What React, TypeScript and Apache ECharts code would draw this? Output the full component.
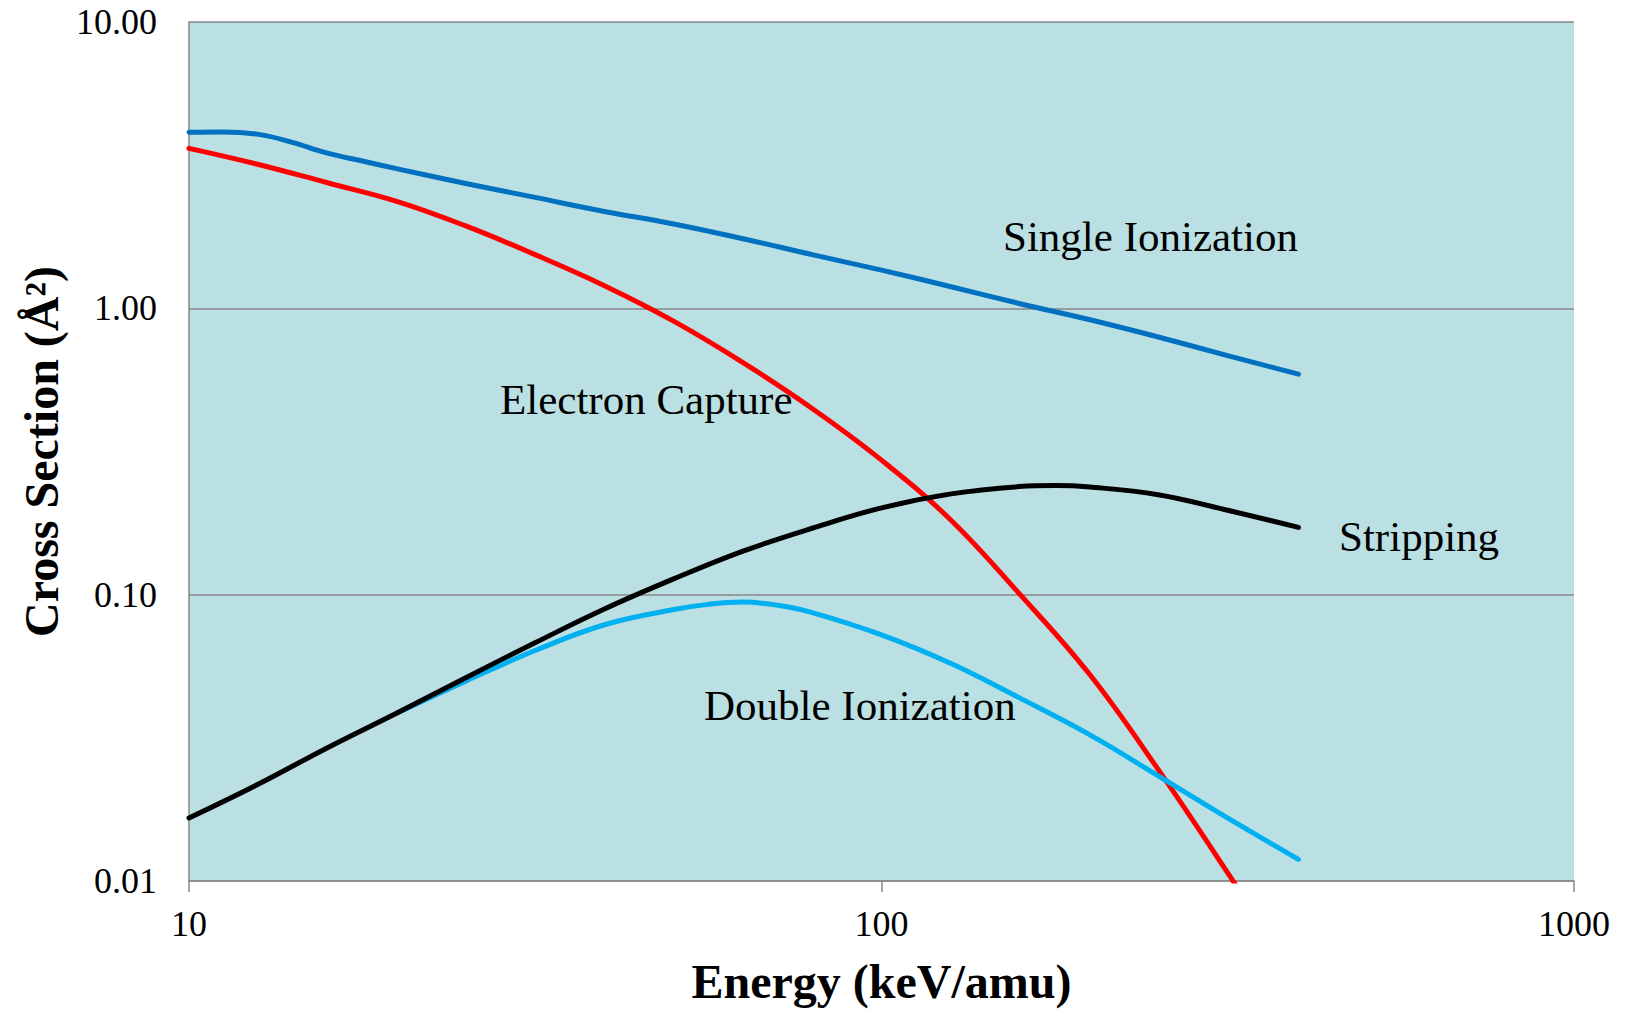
import React, { useEffect, useRef } from "react";
import * as echarts from "echarts";

// Energy (keV/amu) and cross sections (Å²)
const singleIonEnergy = [10, 11.2, 12.6, 14.1, 15.8, 17.8, 20, 25.1, 31.6, 39.8, 50.1, 63.1, 79.4, 100, 126, 158, 200, 251, 316, 400];
const singleIonSigma = [4.12, 4.13, 4.05, 3.8, 3.49, 3.27, 3.07, 2.73, 2.44, 2.18, 1.97, 1.75, 1.54, 1.36, 1.19, 1.04, 0.912, 0.794, 0.684, 0.589];

const captureEnergy = [10, 12.6, 15.8, 20, 25.1, 31.6, 39.8, 50.1, 63.1, 79.4, 100, 126, 158, 200, 251, 316, 355];
const captureSigma = [3.62, 3.18, 2.75, 2.36, 1.94, 1.54, 1.2, 0.902, 0.646, 0.447, 0.295, 0.182, 0.101, 0.0525, 0.0245, 0.0107, 0.0069];

const strippingEnergy = [10, 12.6, 15.8, 20, 25.1, 31.6, 39.8, 50.1, 63.1, 79.4, 100, 126, 158, 178, 200, 251, 316, 400];
const strippingSigma = [0.0166, 0.0218, 0.0291, 0.0387, 0.0513, 0.0679, 0.0891, 0.1135, 0.1419, 0.1706, 0.2009, 0.2249, 0.2385, 0.2405, 0.2377, 0.2234, 0.1972, 0.1718];

const doubleIonEnergy = [20, 25.1, 31.6, 39.8, 50.1, 56.2, 63.1, 70.8, 79.4, 100, 126, 158, 200, 251, 316, 400];
const doubleIonSigma = [0.0387, 0.0499, 0.0638, 0.0785, 0.0887, 0.0925, 0.0942, 0.0918, 0.0866, 0.0724, 0.0575, 0.0437, 0.0324, 0.0233, 0.0166, 0.0119];

const seriesNames = ["Single Ionization", "Electron Capture", "Double Ionization", "Stripping"];
const seriesColors = ["#0070C0", "#FF0000", "#00B0F0", "#000000"];

const xAxisTitle = "Energy (keV/amu)";
const yAxisTitle = "Cross Section (Å²)";

const pairs = (xs: number[], ys: number[]) => xs.map((x, i) => [x, ys[i]]);

export default function App() {
  const ref = useRef<HTMLDivElement>(null);
  useEffect(() => {
    if (!ref.current) return;
    const chart = echarts.init(ref.current, null, { renderer: "svg" });
    const font = "'Liberation Serif', 'Times New Roman', serif";
    const dataSets = [
      pairs(singleIonEnergy, singleIonSigma),
      pairs(captureEnergy, captureSigma),
      pairs(doubleIonEnergy, doubleIonSigma),
      pairs(strippingEnergy, strippingSigma),
    ];
    const annotation = (text: string, x: number, y: number) => ({
      type: "text",
      x,
      y,
      silent: true,
      z: 100,
      style: {
        text,
        fontFamily: font,
        fontSize: 43,
        fill: "#000000",
        align: "left",
        verticalAlign: "middle",
      },
    });
    chart.setOption({
      animation: false,
      backgroundColor: "#ffffff",
      grid: {
        left: 189,
        right: 54,
        top: 22,
        bottom: 130,
        show: true,
        backgroundColor: "#BBE0E3",
        borderWidth: 0,
      },
      xAxis: {
        type: "log",
        logBase: 10,
        min: 10,
        max: 1000,
        name: xAxisTitle,
        nameLocation: "middle",
        nameGap: 76,
        nameTextStyle: { fontFamily: font, fontSize: 48, fontWeight: "bold", color: "#000000" },
        axisLine: { show: true, onZero: false, lineStyle: { color: "#898989", width: 1.5 } },
        axisTick: { show: true, inside: false, length: 11, lineStyle: { color: "#898989", width: 1.5 } },
        minorTick: { show: false },
        splitLine: { show: false },
        axisLabel: {
          fontFamily: font,
          fontSize: 36,
          color: "#000000",
          margin: 25,
          showMinLabel: true,
          showMaxLabel: true,
          formatter: (v: number) => String(Math.round(v)),
        },
      },
      yAxis: {
        type: "log",
        logBase: 10,
        min: 0.01,
        max: 10,
        name: yAxisTitle,
        nameLocation: "middle",
        nameRotate: 90,
        nameGap: 124,
        nameTextStyle: { fontFamily: font, fontSize: 48, fontWeight: "bold", color: "#000000" },
        axisLine: { show: true, onZero: false, lineStyle: { color: "#898989", width: 1.5 } },
        axisTick: { show: false },
        minorTick: { show: false },
        splitLine: { show: true, lineStyle: { color: "#898989", width: 1.5 } },
        axisLabel: {
          fontFamily: font,
          fontSize: 36,
          color: "#000000",
          margin: 32,
          showMinLabel: true,
          showMaxLabel: true,
          formatter: (v: number) => v.toFixed(2),
        },
      },
      series: dataSets.map((d, i) => ({
        name: seriesNames[i],
        type: "line",
        data: d,
        smooth: 0.4,
        showSymbol: false,
        symbol: "none",
        clip: true,
        lineStyle: { width: 5, color: seriesColors[i], cap: "round", join: "round" },
        z: 2 + i,
      })),
      graphic: [
        annotation("Single Ionization", 1003, 236),
        annotation("Electron Capture", 500, 399),
        annotation("Stripping", 1339, 536),
        annotation("Double Ionization", 704, 705),
      ],
    });
    return () => chart.dispose();
  }, []);
  return (
    <div
      ref={ref}
      style={{ position: "fixed", left: 0, top: 0, width: 1628, height: 1011, background: "#ffffff" }}
    />
  );
}
